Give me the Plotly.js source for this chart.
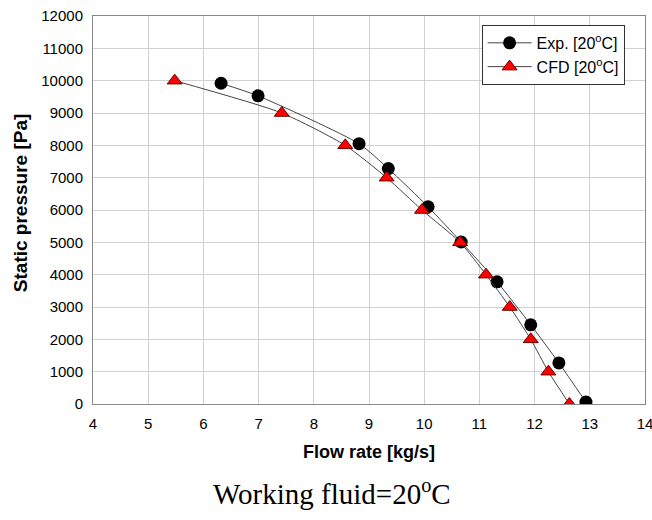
<!DOCTYPE html>
<html>
<head>
<meta charset="utf-8">
<script src="https://cdn.plot.ly/plotly-3.0.1.min.js"></script>
<style>html,body{margin:0;padding:0;background:#fff;}#chart{width:652px;height:520px;}</style>
</head>
<body>
<div id="chart"></div>
<script>
const expFlow = [6.32, 6.99, 8.82, 9.35, 10.07, 10.67, 11.32, 11.93, 12.44, 12.93];
const expPressure = [9920, 9530, 8050, 7280, 6100, 5010, 3780, 2450, 1270, 60];
const cfdFlow = [5.48, 7.42, 8.57, 9.32, 9.96, 10.65, 11.12, 11.55, 11.93, 12.25, 12.63];
const cfdPressure = [10000, 9000, 8000, 7000, 6000, 5000, 4000, 3000, 2000, 1000, 0];
const xTicks = [4, 5, 6, 7, 8, 9, 10, 11, 12, 13, 14];
const yTicks = [0, 1000, 2000, 3000, 4000, 5000, 6000, 7000, 8000, 9000, 10000, 11000, 12000];

const traces = [
  {
    x: expFlow, y: expPressure, name: 'Exp. [20<sup>o</sup>C]',
    mode: 'lines+markers', type: 'scatter',
    line: {color: '#444', width: 1, shape: 'spline', smoothing: 0.6},
    marker: {symbol: 'circle', size: 13, color: '#000', line: {color: '#000', width: 0}}
  },
  {
    x: cfdFlow, y: cfdPressure, name: 'CFD [20<sup>o</sup>C]',
    mode: 'lines+markers', type: 'scatter',
    line: {color: '#444', width: 1, shape: 'spline', smoothing: 0.6},
    marker: {symbol: 'triangle-up', size: 13, color: '#ff0000', line: {color: '#600', width: 1}}
  }
];

const layout = {
  width: 652, height: 520,
  margin: {l: 93, r: 7, t: 16, b: 116},
  paper_bgcolor: '#fff', plot_bgcolor: '#fff',
  font: {family: 'Liberation Sans, Arial, sans-serif', size: 15, color: '#000'},
  showlegend: true,
  legend: {
    x: 0.704, y: 0.977, xanchor: 'left', yanchor: 'top',
    bordercolor: '#333', borderwidth: 1, bgcolor: '#fff',
    font: {family: 'Liberation Sans, Arial, sans-serif', size: 16, color: '#000'},
    itemwidth: 44, tracegroupgap: 2
  },
  xaxis: {
    range: [4, 14], tickvals: xTicks, ticktext: xTicks.map(String),
    showgrid: true, gridcolor: '#d0d0d0', gridwidth: 1,
    showline: true, linecolor: '#888', linewidth: 1, mirror: true,
    zeroline: false, ticks: '', ticklen: 0, ticklabeloverflow: 'allow',
    ticklabelstandoff: 6,
    tickfont: {size: 15},
    title: {text: '<b>Flow rate [kg/s]</b>', font: {size: 18}, standoff: 14}
  },
  yaxis: {
    range: [0, 12000], tickvals: yTicks, ticktext: yTicks.map(String),
    showgrid: true, gridcolor: '#d0d0d0', gridwidth: 1,
    showline: true, linecolor: '#888', linewidth: 1, mirror: true,
    zeroline: false, ticks: '', ticklen: 0, ticklabeloverflow: 'allow',
    ticklabelstandoff: 6,
    tickfont: {size: 15}
  },
  annotations: [
    {
      xref: 'paper', yref: 'paper', x: -0.132, y: 0.518, xanchor: 'center', yanchor: 'middle',
      showarrow: false, textangle: -90,
      text: '<b>Static pressure [Pa]</b>',
      font: {family: 'Liberation Sans, Arial, sans-serif', size: 19, color: '#000'}
    },
    {
      xref: 'paper', yref: 'paper', x: 0.433, y: -0.227, xanchor: 'center', yanchor: 'middle',
      showarrow: false,
      text: 'Working fluid=20<sup>o</sup>C',
      font: {family: 'Liberation Serif, Times New Roman, serif', size: 29, color: '#000'}
    }
  ]
};

Plotly.newPlot('chart', traces, layout, {displayModeBar: false, staticPlot: true});
</script>
</body>
</html>
